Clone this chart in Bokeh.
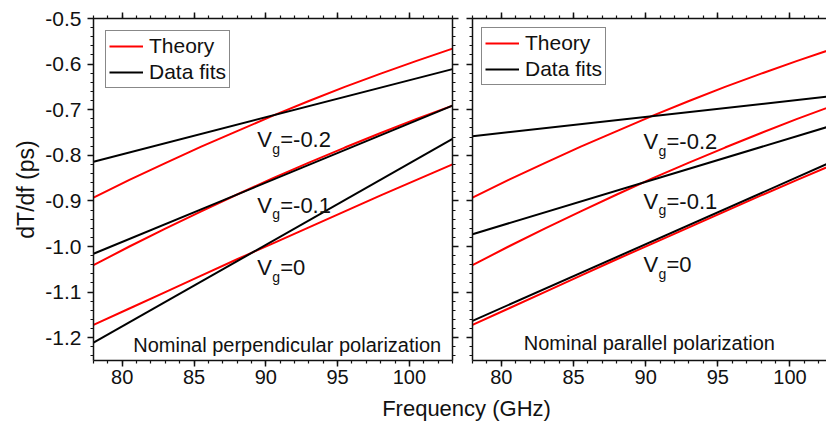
from bokeh.plotting import figure
from bokeh.layouts import column, row
from bokeh.models import (Range1d, LinearAxis, FixedTicker, PrintfTickFormatter,
                          Legend, LegendItem, Label, CustomLabelingPolicy)
from bokeh.core.properties import value
from bokeh.embed import file_html
from bokeh.resources import INLINE
import numpy as np

FONT = "Liberation Sans"

# ---------------- data ----------------
freq_theory = [78, 80.5, 83, 85.5, 88, 90.5, 93, 95.5, 98, 100.5, 103]
theory_vg_m02 = [-0.893, -0.854, -0.817, -0.781, -0.747, -0.713, -0.681, -0.650, -0.621, -0.593, -0.566]
theory_vg_m01 = [-1.041, -1.000, -0.961, -0.923, -0.886, -0.850, -0.816, -0.783, -0.751, -0.720, -0.691]
theory_vg_0 = [-1.172, -1.136, -1.100, -1.064, -1.028, -0.993, -0.958, -0.923, -0.888, -0.854, -0.820]

freq_fit = [78, 103]
# perpendicular polarization fits
perp_fit_m02 = [-0.814, -0.611]
perp_fit_m01 = [-1.016, -0.691]
perp_fit_0 = [-1.211, -0.764]
# parallel polarization fits
par_fit_m02 = [-0.758, -0.670]
par_fit_m01 = [-0.973, -0.734]
par_fit_0 = [-1.163, -0.813]

vg_texts = ["=-0.2", "=-0.1", "=0"]
perp_label_x = [89.4, 89.4, 89.4]
perp_label_y = [-0.766, -0.909, -1.047]
par_label_x = [89.85, 89.85, 89.85]
par_label_y = [-0.770, -0.901, -1.040]

x_ticks = [80, 85, 90, 95, 100]
y_ticks = [-1.2, -1.1, -1.0, -0.9, -0.8, -0.7, -0.6, -0.5]
x_minor = list(range(78, 104))
y_minor = [round(v, 2) for v in np.arange(-1.24, -0.49, 0.02)]

RED = "#ff0000"
BLACK = "#000000"
INK = "#111111"

PANEL_H = 392


def style_axis(ax, labels=True):
    ax.axis_line_color = INK
    ax.axis_line_width = 1.5
    ax.major_tick_line_color = INK
    ax.major_tick_line_width = 1.5
    ax.minor_tick_line_color = INK
    ax.minor_tick_line_width = 1.2
    ax.major_tick_in = 0
    ax.major_tick_out = 6
    ax.minor_tick_in = 0
    ax.minor_tick_out = 3
    ax.major_label_text_font = FONT
    ax.major_label_text_color = INK
    ax.axis_label = None
    ax.axis_label_text_font = FONT
    ax.axis_label_text_font_style = "normal"
    ax.axis_label_text_color = INK
    ax.axis_label_standoff = 0
    if labels:
        ax.major_label_text_font_size = "21px"
        ax.major_label_standoff = 6
    else:
        ax.major_label_text_font_size = "0px"
        ax.major_label_standoff = 0
        ax.major_label_policy = CustomLabelingPolicy(
            code="for (const i of indices) indices.unset(i)")


def make_panel(x_end, total_w, left_border, right_border, show_y_labels, fits,
               lab_x, lab_y, nominal_text, nominal_xy, legend_margin, right_axis):
    p = figure(width=total_w, height=PANEL_H, title=None,
               x_range=Range1d(78, x_end), y_range=Range1d(-1.25, -0.5),
               output_backend="svg", toolbar_location=None,
               min_border_left=left_border, min_border_right=right_border,
               min_border_top=18, min_border_bottom=PANEL_H - 360)
    p.grid.visible = False
    p.outline_line_color = None
    p.background_fill_color = "white"
    p.border_fill_color = "white"

    p.xaxis.ticker = FixedTicker(ticks=x_ticks, minor_ticks=x_minor)
    p.yaxis.ticker = FixedTicker(ticks=y_ticks, minor_ticks=y_minor)
    p.yaxis.formatter = PrintfTickFormatter(format="%.1f")
    for ax in p.xaxis:
        style_axis(ax, True)
        ax.major_label_text_font_size = "20px"
        ax.major_label_standoff = 3
    for ax in p.yaxis:
        style_axis(ax, show_y_labels)
    if show_y_labels:
        p.yaxis.axis_label = "dT/df (ps)"
        p.yaxis.axis_label_text_font_size = "23px"
        p.yaxis.axis_label_standoff = 3

    top = LinearAxis(ticker=FixedTicker(ticks=x_ticks, minor_ticks=x_minor))
    style_axis(top, False)
    p.add_layout(top, "above")
    if right_axis:
        rt = LinearAxis(ticker=FixedTicker(ticks=y_ticks, minor_ticks=y_minor))
        style_axis(rt, False)
        p.add_layout(rt, "right")

    th = []
    for ys in (theory_vg_m02, theory_vg_m01, theory_vg_0):
        th.append(p.line(freq_theory, ys, line_color=RED, line_width=2))
    fr = []
    for ys in fits:
        fr.append(p.line(freq_fit, ys, line_color=BLACK, line_width=2))

    p.text(x=lab_x, y=lab_y, text=["V"] * 3, text_font=value(FONT),
           text_font_size="22px", text_align="left", text_baseline="alphabetic",
           text_color=INK)
    p.text(x=lab_x, y=lab_y, text=["g"] * 3, text_font=value(FONT),
           text_font_size="14px", text_align="left", text_baseline="alphabetic",
           x_offset=15, y_offset=9, text_color=INK)
    p.text(x=lab_x, y=lab_y, text=vg_texts, text_font=value(FONT),
           text_font_size="22px", text_align="left", text_baseline="alphabetic",
           x_offset=23, text_color=INK)

    p.add_layout(Label(x=nominal_xy[0], y=nominal_xy[1], text=nominal_text,
                       text_font=FONT, text_font_size="20px",
                       text_baseline="alphabetic", text_color=INK))

    leg = Legend(items=[LegendItem(label="Theory", renderers=[th[0]]),
                        LegendItem(label="Data fits", renderers=[fr[0]])],
                 location="top_left")
    leg.label_text_font = FONT
    leg.label_text_font_size = "21px"
    leg.label_text_color = INK
    leg.glyph_width = 34
    leg.glyph_height = 20
    leg.label_height = 20
    leg.label_standoff = 6
    leg.spacing = 2
    leg.padding = 3
    leg.margin = legend_margin
    leg.border_line_color = INK
    leg.border_line_width = 1
    leg.background_fill_color = "white"
    leg.background_fill_alpha = 1.0
    p.add_layout(leg)
    return p


p1 = make_panel(103, 462, 93, 10, True,
                (perp_fit_m02, perp_fit_m01, perp_fit_0),
                perp_label_x, perp_label_y,
                "Nominal perpendicular polarization", (80.77, -1.2165),
                12, True)
p2 = make_panel(102.53, 364, 10, 0, False,
                (par_fit_m02, par_fit_m01, par_fit_0),
                par_label_x, par_label_y,
                "Nominal parallel polarization", (81.55, -1.211),
                9, False)

TITLE_H = 422 - PANEL_H
p3 = figure(width=826, height=TITLE_H, title=None,
            x_range=Range1d(0, 826), y_range=Range1d(0, TITLE_H),
            output_backend="svg", toolbar_location=None, min_border=0,
            min_border_left=0, min_border_right=0, min_border_top=0, min_border_bottom=0,
            x_axis_location=None, y_axis_location=None)
p3.grid.visible = False
p3.outline_line_color = None
p3.background_fill_color = "white"
p3.border_fill_color = "white"
# anchored to the top edge of this strip, offset a few pixels downward
p3.text(x=[466], y=[TITLE_H], text=["Frequency (GHz)"], text_font=value(FONT),
        text_font_size="22px", text_align="center", text_baseline="top",
        y_offset=3, text_color=INK)

layout = column(row(p1, p2, spacing=0), p3, spacing=0)
open("out.html", "w").write(file_html(layout, INLINE))
